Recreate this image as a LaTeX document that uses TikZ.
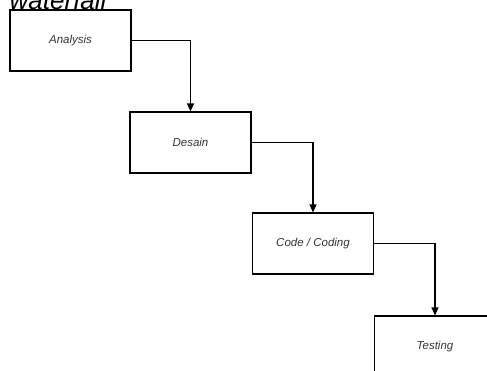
\documentclass[tikz,border=0pt]{standalone}
\usepackage{fontspec}
\setmainfont{Liberation Sans}
\usetikzlibrary{arrows.meta}
\begin{document}
\begin{tikzpicture}[x=1pt,y=-1pt,
  stepbox/.style={draw=black,line width=1.1pt,minimum width=121pt,minimum height=61pt,inner sep=0pt,
    font=\fontsize{11.5}{13}\selectfont\itshape,text=black!80},
  conn/.style={draw=black,line width=1.1pt,-{Triangle[length=8pt,width=7pt]}}]
\useasboundingbox (0,0) rectangle (487,370);
\clip (0,0) rectangle (487,370);
\node[anchor=base west,inner sep=0pt,font=\fontsize{26}{30}\selectfont\itshape] (title) at (9.5,9) {waterfall};
\node[stepbox] (a) at (70.5,40.5) {Analysis};
\node[stepbox] (d) at (190.5,142.5) {Desain};
\node[stepbox] (c) at (313,243.5) {Code / Coding};
\node[stepbox] (t) at (435,346.5) {Testing};
\draw[conn] (a.east) -| (d.north);
\draw[conn] (d.east) -| (c.north);
\draw[conn] (c.east) -| (t.north);
\end{tikzpicture}
\end{document}
